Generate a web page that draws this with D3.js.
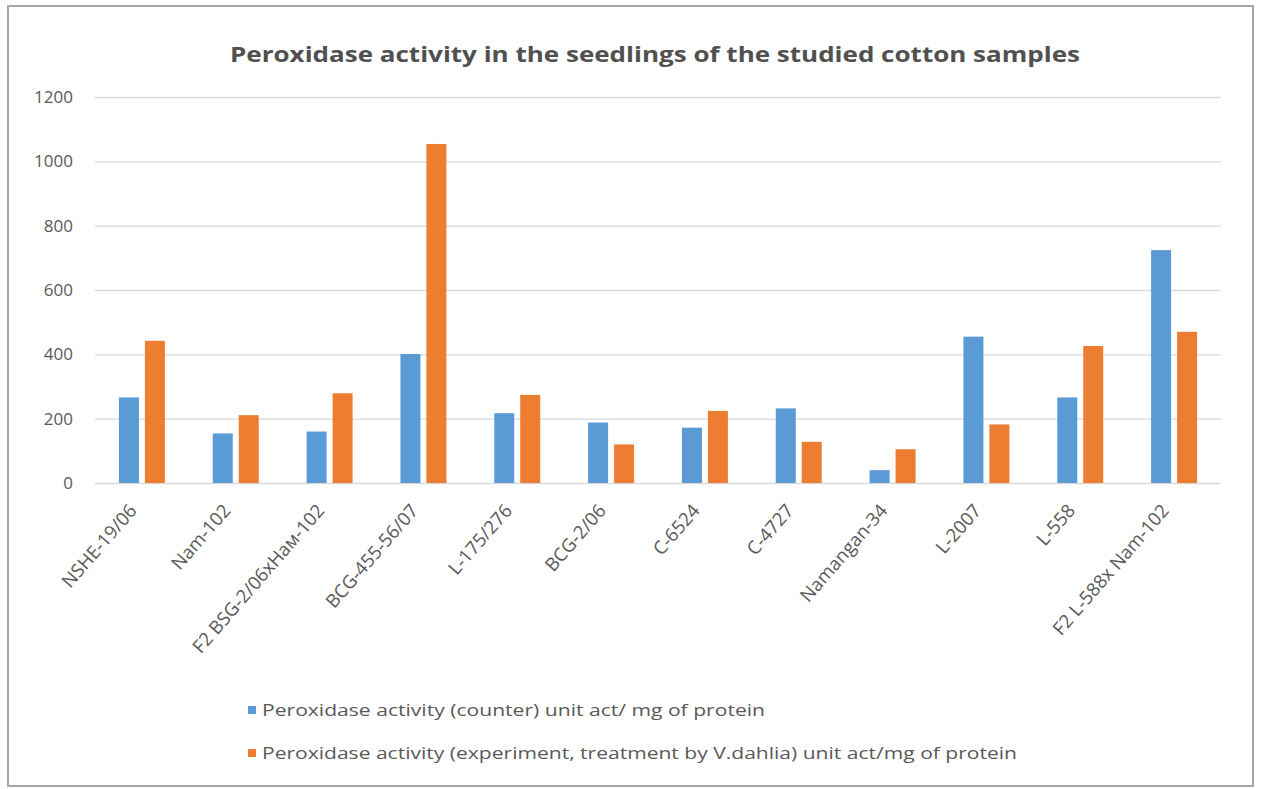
<!DOCTYPE html>
<html>
<head>
<meta charset="utf-8">
<script src="https://cdn.jsdelivr.net/npm/d3@7"></script>
<style>
  html, body { margin: 0; padding: 0; background: #ffffff; }
  svg { display: block; }
</style>
</head>
<body>
<svg id="chart" width="1261" height="789"></svg>
<script>
const categories = ["NSHE-19/06", "Nam-102", "F2 BSG-2/06xHaм-102", "BCG-455-56/07", "L-175/276", "BCG-2/06", "C-6524", "C-4727", "Namangan-34", "L-2007", "L-558", "F2 L-588x Nam-102"];
const counterValues = [266, 154, 160, 401, 217, 188, 172, 232, 40, 455, 266, 724];
const experimentValues = [442, 211, 279, 1054, 274, 120, 224, 128, 105, 182, 426, 470];
const seriesNames = [
  "Peroxidase activity (counter) unit act/ mg of protein",
  "Peroxidase activity (experiment, treatment by V.dahlia) unit act/mg of protein"
];
const yTicks = [0, 200, 400, 600, 800, 1000, 1200];
const titleText = "Peroxidase activity in the seedlings of the studied cotton samples";

const colors = ["#5b9bd5", "#ed7d31"];
const textColor = "#595959";
const font = "'Open Sans', 'Liberation Sans', sans-serif";

const svg = d3.select("#chart");

// outer frame
svg.append("rect").attr("x", 8).attr("y", 6).attr("width", 1245).attr("height", 780)
  .attr("fill", "#ffffff").attr("stroke", "#a6a6a6").attr("stroke-width", 2);

const plotLeft = 95, plotRight = 1221, plotTop = 97, plotBottom = 483;

const x0 = d3.scaleBand().domain(categories).range([plotLeft, plotRight]).paddingInner(0.51).paddingOuter(0.255);
const x1 = d3.scaleBand().domain([0, 1]).range([0, x0.bandwidth()]).paddingInner(0.23);
const y = d3.scaleLinear().domain([0, 1200]).range([plotBottom, plotTop]);

// gridlines + y labels via axis
const yAxis = d3.axisLeft(y).tickValues(yTicks).tickFormat(d3.format("d"))
  .tickSize(-(plotRight - plotLeft)).tickPadding(22);
const gy = svg.append("g").attr("transform", `translate(${plotLeft},0)`).call(yAxis);
gy.select(".domain").remove();
gy.selectAll(".tick line").attr("stroke", "#d9d9d9").attr("stroke-width", 1.3);
gy.selectAll(".tick text").attr("fill", textColor).style("font-family", font).style("font-size", "17px");

// bars
const data = categories.map((c, i) => ({ cat: c, vals: [counterValues[i], experimentValues[i]] }));
const groups = svg.append("g").selectAll("g").data(data).join("g")
  .attr("transform", d => `translate(${x0(d.cat)},0)`);
groups.selectAll("rect").data(d => d.vals.map((v, k) => ({ v, k }))).join("rect")
  .attr("x", d => x1(d.k))
  .attr("width", x1.bandwidth())
  .attr("y", d => y(d.v))
  .attr("height", d => y(0) - y(d.v))
  .attr("fill", d => colors[d.k]);

// x labels
const xAxis = d3.axisBottom(x0).tickSize(0).tickPadding(0);
const gx = svg.append("g").attr("transform", `translate(0,${plotBottom})`).call(xAxis);
gx.select(".domain").remove();
gx.selectAll(".tick text")
  .attr("fill", textColor).style("font-family", font).style("font-size", "18.5px")
  .attr("text-anchor", "end")
  .attr("x", 0).attr("y", 0).attr("dy", "0.35em")
  .attr("transform", "translate(-9,24) rotate(-49)");

// title
svg.append("text").attr("x", 655).attr("y", 62).attr("text-anchor", "middle")
  .attr("fill", "#505050").style("font-family", font).style("font-size", "21px").style("font-weight", "bold")
  .attr("textLength", 850).attr("lengthAdjust", "spacingAndGlyphs")
  .text(titleText);

// legend
const legendRows = [{ y: 710, w: 503 }, { y: 753, w: 755 }];
const lg = svg.append("g");
seriesNames.forEach((name, i) => {
  lg.append("rect").attr("x", 248).attr("y", legendRows[i].y - 4).attr("width", 8).attr("height", 8).attr("fill", colors[i]);
  lg.append("text").attr("x", 262).attr("y", legendRows[i].y).attr("dy", "0.35em")
    .attr("fill", textColor).style("font-family", font).style("font-size", "16px")
    .attr("textLength", legendRows[i].w).attr("lengthAdjust", "spacingAndGlyphs")
    .text(name);
});
</script>
</body>
</html>
